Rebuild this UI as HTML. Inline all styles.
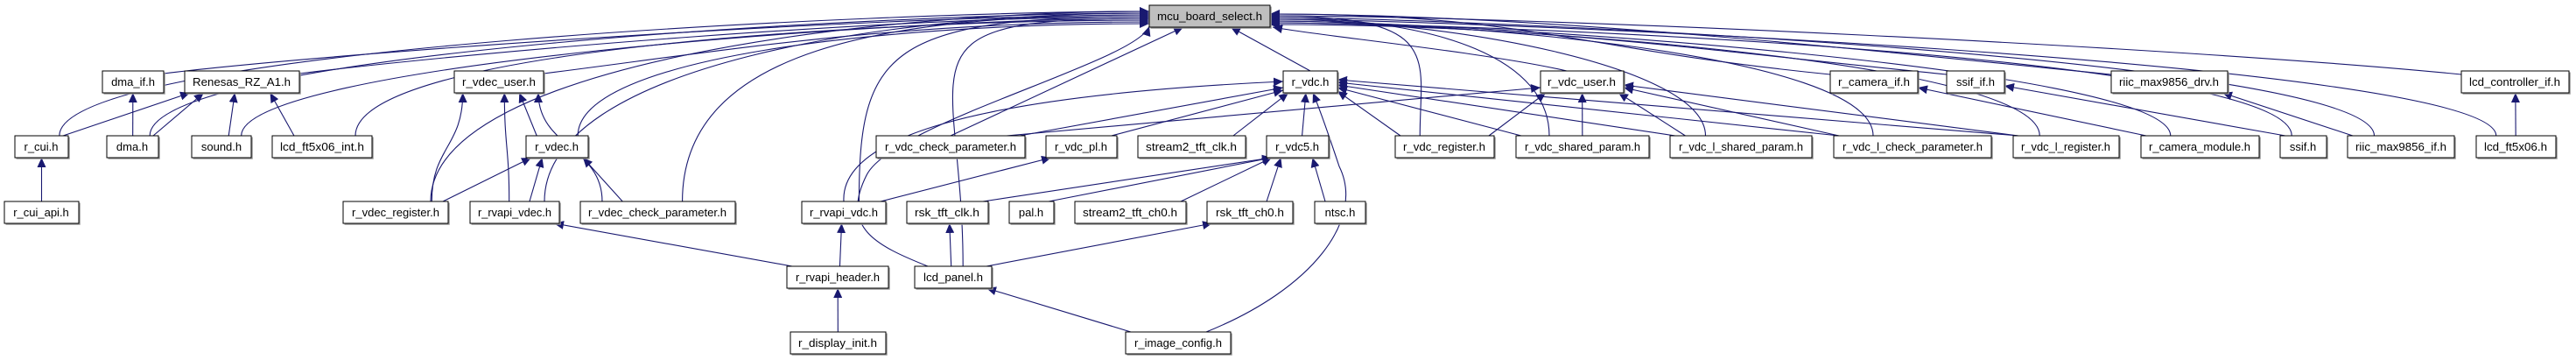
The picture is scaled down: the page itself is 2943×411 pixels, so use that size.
<!DOCTYPE html>
<html><head><meta charset="utf-8">
<style>
html,body{margin:0;padding:0;background:#fff;width:2943px;height:411px;overflow:hidden}
svg{display:block}
text{font-family:"Liberation Sans",sans-serif;font-size:13px;fill:#000}
</style></head><body>
<svg id="s" width="2943" height="411" xmlns="http://www.w3.org/2000/svg">
<defs>
<marker id="a" markerUnits="userSpaceOnUse" markerWidth="12" markerHeight="10" refX="11" refY="5" orient="auto">
<path d="M0,0 L11,5 L0,10 Z" fill="#191970"/>
</marker>
</defs>
<g id="edges" fill="none" stroke="#191970" stroke-width="1.1"></g>
<g id="nodes">
<g id="mbs"><rect x="1313" y="6" width="138" height="25" fill="#bfbfbf"/><text x="1382" y="23" text-anchor="middle" textLength="120" lengthAdjust="spacingAndGlyphs">mcu_board_select.h</text></g>
<g id="dmaif"><rect x="117" y="81" width="70" height="25"/><text x="152" y="98" text-anchor="middle">dma_if.h</text></g>
<g id="ren"><rect x="211" y="81" width="131" height="25"/><text x="276" y="98" text-anchor="middle" textLength="112" lengthAdjust="spacingAndGlyphs">Renesas_RZ_A1.h</text></g>
<g id="vdecuser"><rect x="519" y="81" width="102" height="25"/><text x="570" y="98" text-anchor="middle" textLength="84" lengthAdjust="spacingAndGlyphs">r_vdec_user.h</text></g>
<g id="vdc"><rect x="1466" y="81" width="62" height="25"/><text x="1497" y="98" text-anchor="middle">r_vdc.h</text></g>
<g id="vdcuser"><rect x="1760" y="81" width="95" height="25"/><text x="1807" y="98" text-anchor="middle" textLength="78" lengthAdjust="spacingAndGlyphs">r_vdc_user.h</text></g>
<g id="camif"><rect x="2091" y="81" width="100" height="25"/><text x="2141" y="98" text-anchor="middle" textLength="82" lengthAdjust="spacingAndGlyphs">r_camera_if.h</text></g>
<g id="ssifif"><rect x="2224" y="81" width="66" height="25"/><text x="2257" y="98" text-anchor="middle">ssif_if.h</text></g>
<g id="riicdrv"><rect x="2412" y="81" width="133" height="25"/><text x="2478" y="98" text-anchor="middle" textLength="114" lengthAdjust="spacingAndGlyphs">riic_max9856_drv.h</text></g>
<g id="lcdctl"><rect x="2812" y="81" width="123" height="25"/><text x="2873" y="98" text-anchor="middle" textLength="104" lengthAdjust="spacingAndGlyphs">lcd_controller_if.h</text></g>
<g id="cui"><rect x="17" y="155" width="61" height="25"/><text x="47" y="172" text-anchor="middle">r_cui.h</text></g>
<g id="dma"><rect x="122" y="155" width="59" height="25"/><text x="151" y="172" text-anchor="middle">dma.h</text></g>
<g id="sound"><rect x="219" y="155" width="68" height="25"/><text x="253" y="172" text-anchor="middle">sound.h</text></g>
<g id="lcdint"><rect x="311" y="155" width="114" height="25"/><text x="368" y="172" text-anchor="middle" textLength="96" lengthAdjust="spacingAndGlyphs">lcd_ft5x06_int.h</text></g>
<g id="vdec"><rect x="601" y="155" width="71" height="25"/><text x="636" y="172" text-anchor="middle">r_vdec.h</text></g>
<g id="vdccheck"><rect x="1001" y="155" width="170" height="25"/><text x="1086" y="172" text-anchor="middle" textLength="150" lengthAdjust="spacingAndGlyphs">r_vdc_check_parameter.h</text></g>
<g id="vdcpl"><rect x="1195" y="155" width="81" height="25"/><text x="1235" y="172" text-anchor="middle">r_vdc_pl.h</text></g>
<g id="s2clk"><rect x="1300" y="155" width="123" height="25"/><text x="1361" y="172" text-anchor="middle" textLength="104" lengthAdjust="spacingAndGlyphs">stream2_tft_clk.h</text></g>
<g id="vdc5"><rect x="1447" y="155" width="71" height="25"/><text x="1482" y="172" text-anchor="middle">r_vdc5.h</text></g>
<g id="vdcreg"><rect x="1594" y="155" width="113" height="25"/><text x="1650" y="172" text-anchor="middle" textLength="94" lengthAdjust="spacingAndGlyphs">r_vdc_register.h</text></g>
<g id="vdcshared"><rect x="1732" y="155" width="152" height="25"/><text x="1808" y="172" text-anchor="middle" textLength="132" lengthAdjust="spacingAndGlyphs">r_vdc_shared_param.h</text></g>
<g id="vdclshared"><rect x="1908" y="155" width="162" height="25"/><text x="1989" y="172" text-anchor="middle" textLength="142" lengthAdjust="spacingAndGlyphs">r_vdc_l_shared_param.h</text></g>
<g id="vdclcheck"><rect x="2095" y="155" width="180" height="25"/><text x="2185" y="172" text-anchor="middle" textLength="160" lengthAdjust="spacingAndGlyphs">r_vdc_l_check_parameter.h</text></g>
<g id="vdclreg"><rect x="2300" y="155" width="121" height="25"/><text x="2360" y="172" text-anchor="middle" textLength="102" lengthAdjust="spacingAndGlyphs">r_vdc_l_register.h</text></g>
<g id="cammod"><rect x="2446" y="155" width="135" height="25"/><text x="2513" y="172" text-anchor="middle" textLength="116" lengthAdjust="spacingAndGlyphs">r_camera_module.h</text></g>
<g id="ssif"><rect x="2605" y="155" width="53" height="25"/><text x="2631" y="172" text-anchor="middle">ssif.h</text></g>
<g id="riicif"><rect x="2682" y="155" width="122" height="25"/><text x="2743" y="172" text-anchor="middle" textLength="104" lengthAdjust="spacingAndGlyphs">riic_max9856_if.h</text></g>
<g id="lcdft"><rect x="2829" y="155" width="91" height="25"/><text x="2874" y="172" text-anchor="middle" textLength="72" lengthAdjust="spacingAndGlyphs">lcd_ft5x06.h</text></g>
<g id="cuiapi"><rect x="5" y="230" width="85" height="25"/><text x="47" y="247" text-anchor="middle">r_cui_api.h</text></g>
<g id="vdecreg"><rect x="392" y="230" width="120" height="25"/><text x="452" y="247" text-anchor="middle" textLength="100" lengthAdjust="spacingAndGlyphs">r_vdec_register.h</text></g>
<g id="rvapivdec"><rect x="537" y="230" width="102" height="25"/><text x="588" y="247" text-anchor="middle" textLength="84" lengthAdjust="spacingAndGlyphs">r_rvapi_vdec.h</text></g>
<g id="vdeccheck"><rect x="663" y="230" width="177" height="25"/><text x="751" y="247" text-anchor="middle" textLength="158" lengthAdjust="spacingAndGlyphs">r_vdec_check_parameter.h</text></g>
<g id="rvapivdc"><rect x="916" y="230" width="96" height="25"/><text x="964" y="247" text-anchor="middle" textLength="78" lengthAdjust="spacingAndGlyphs">r_rvapi_vdc.h</text></g>
<g id="rskclk"><rect x="1036" y="230" width="93" height="25"/><text x="1082" y="247" text-anchor="middle" textLength="74" lengthAdjust="spacingAndGlyphs">rsk_tft_clk.h</text></g>
<g id="pal"><rect x="1153" y="230" width="51" height="25"/><text x="1178" y="247" text-anchor="middle">pal.h</text></g>
<g id="s2ch0"><rect x="1228" y="230" width="127" height="25"/><text x="1291" y="247" text-anchor="middle" textLength="108" lengthAdjust="spacingAndGlyphs">stream2_tft_ch0.h</text></g>
<g id="rskch0"><rect x="1379" y="230" width="98" height="25"/><text x="1428" y="247" text-anchor="middle" textLength="78" lengthAdjust="spacingAndGlyphs">rsk_tft_ch0.h</text></g>
<g id="ntsc"><rect x="1502" y="230" width="58" height="25"/><text x="1531" y="247" text-anchor="middle">ntsc.h</text></g>
<g id="rvapihdr"><rect x="899" y="304" width="116" height="25"/><text x="957" y="321" text-anchor="middle" textLength="96" lengthAdjust="spacingAndGlyphs">r_rvapi_header.h</text></g>
<g id="lcdpanel"><rect x="1045" y="304" width="88" height="25"/><text x="1089" y="321" text-anchor="middle" textLength="68" lengthAdjust="spacingAndGlyphs">lcd_panel.h</text></g>
<g id="dispinit"><rect x="903" y="379" width="109" height="25"/><text x="957" y="396" text-anchor="middle" textLength="90" lengthAdjust="spacingAndGlyphs">r_display_init.h</text></g>
<g id="imgcfg"><rect x="1286" y="379" width="120" height="25"/><text x="1346" y="396" text-anchor="middle" textLength="100" lengthAdjust="spacingAndGlyphs">r_image_config.h</text></g>
</g>
</svg>
<script>
(function(){
var NS="http://www.w3.org/2000/svg";
var N={};
document.querySelectorAll('#nodes > g').forEach(function(g){
 var r=g.querySelector('rect');
 if(!r.getAttribute('fill'))r.setAttribute('fill','#fff');
 r.setAttribute('stroke','#000');r.setAttribute('stroke-width','1');
 var x=+r.getAttribute('x'),y=+r.getAttribute('y'),w=+r.getAttribute('width'),h=+r.getAttribute('height');
 var sh=document.createElementNS(NS,'path');
 sh.setAttribute('d','M'+(x+1.5)+','+(y+h+1)+' H'+(x+w+1)+' V'+(y+1.5));
 sh.setAttribute('stroke','#999');sh.setAttribute('fill','none');sh.setAttribute('stroke-width','1.5');
 g.insertBefore(sh,r);
 N[g.id]={x1:x,x2:x+w,t:y,b:y+h,cx:x+w/2,w:w};
});
var E=document.getElementById('edges');
function add(d){var p=document.createElementNS(NS,'path');p.setAttribute('d',d);p.setAttribute('marker-end','url(#a)');E.appendChild(p);}
function cl(v,a,b){return Math.max(a,Math.min(b,v));}
var M=N.mbs;
var leftKids=['cui','dma','dmaif','ren','sound','lcdint','vdecuser','vdec','vdecreg','rvapivdec','vdeccheck','rvapivdc','lcdpanel'];
leftKids.forEach(function(k,i){
 var c=N[k];var ey=13+(i%8)*2;
 var sx,sy;
 if(c.t<100&&k!='vdec'){sx=c.x2;sy=c.t+3;add('M'+sx+','+sy+' C'+(sx+200)+','+(sy-25)+' '+(M.x1-300)+','+ey+' '+M.x1+','+ey);}
 else{sx=c.cx+cl((M.x1-c.cx)*0.05,-c.w/3,c.w/3);sy=c.t;
  var c1=55+(i%5)*5;
  add('M'+sx+','+sy+' C'+sx+','+c1+' '+(M.x1-300)+','+ey+' '+M.x1+','+ey);}
});
add('M1086,155 L1352,31');
add('M1497,81 L1406,31');
add('M1790,81 C1700,60 1500,40 1454,31');
var rightKids=['camif','vdcreg','vdcshared','vdclshared','vdclcheck','vdclreg','ssifif','riicdrv','lcdctl','riicif','lcdft','cammod','ssif'];
rightKids.forEach(function(k,i){
 var c=N[k];var ey=16+(i%7)*2;
 var sx,sy;
 if(c.t<100){sx=c.x1;sy=c.t+4;add('M'+sx+','+sy+' C'+(sx-300)+','+(sy-30)+' '+(M.x2+300)+','+ey+' '+M.x2+','+ey);}
 else{sx=c.cx-c.w/4;sy=c.t;add('M'+sx+','+sy+' C'+sx+','+(60+(i%4)*5)+' '+(M.x2+200)+','+ey+' '+M.x2+','+ey);}
});
function ed(c,p,side,py){
 c=N[c];p=N[p];
 var sx=c.cx+cl((p.cx-c.cx)*0.35,-c.w/2+6,c.w/2-6),sy=c.t;
 var ex,ey;
 if(side=='L'){ex=p.x1;ey=py||p.b-8;add('M'+sx+','+sy+' L'+ex+','+ey);return;}
 if(side=='R'){ex=p.x2;ey=py||p.b-8;add('M'+sx+','+sy+' L'+ex+','+ey);return;}
 ex=p.cx+cl((c.cx-p.cx)*0.35,-p.w/2+6,p.w/2-6);ey=p.b;
 if(c.t-p.b>60){var m=(sy+ey)/2;add('M'+sx+','+sy+' C'+sx+','+m+' '+ex+','+m+' '+ex+','+ey);}
 else add('M'+sx+','+sy+' L'+ex+','+ey);
}
ed('dma','dmaif');ed('cui','ren');ed('dma','ren');ed('sound','ren');ed('lcdint','ren');
ed('cuiapi','cui');
ed('vdec','vdecuser');ed('vdecreg','vdecuser');ed('rvapivdec','vdecuser');ed('vdeccheck','vdecuser');
ed('vdecreg','vdec');ed('rvapivdec','vdec');ed('vdeccheck','vdec');
ed('rvapihdr','rvapivdec');ed('rvapihdr','rvapivdc');ed('dispinit','rvapihdr');
ed('rvapivdc','vdcpl');
add('M964,230 C960,160 1100,110 1466,93');
ed('vdccheck','vdc','L',100);ed('vdcpl','vdc','L',103);ed('s2clk','vdc');ed('vdc5','vdc');
ed('vdcreg','vdc','R',104);ed('vdcshared','vdc','R',100);ed('vdclshared','vdc','R',97);ed('vdclcheck','vdc','R',94);ed('vdclreg','vdc','R',91);
add('M1378,379 C1500,330 1560,250 1530,190 C1520,160 1510,130 1500,106');
ed('rskclk','vdc5');ed('pal','vdc5');ed('s2ch0','vdc5');ed('rskch0','vdc5');ed('ntsc','vdc5');
ed('lcdpanel','rskclk');ed('lcdpanel','rskch0');ed('imgcfg','lcdpanel');
add('M1060,304 C1000,280 960,260 990,200 C1020,140 1300,70 1313,30');
add('M1150,155 L1760,100');
ed('vdcreg','vdcuser');ed('vdcshared','vdcuser');ed('vdclshared','vdcuser');
ed('vdclcheck','vdcuser','R',100);ed('vdclreg','vdcuser','R',97);
ed('cammod','camif','R',100);ed('ssif','ssifif','R',98);ed('riicif','riicdrv');ed('lcdft','lcdctl');
})();
</script>
</body></html>
